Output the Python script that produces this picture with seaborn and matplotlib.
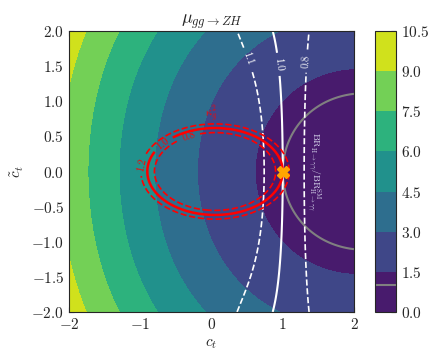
import numpy as np
import matplotlib
matplotlib.use("Agg")
import matplotlib.pyplot as plt
import seaborn as sns

# signal strength mu(gg->ZH) ~ a0 + a1*ct + a2*ct^2 + (b0 + b1*ct)*cpt^2
mu_ct_coef = [2.58, -2.04, 0.46]
mu_cpt_coef = [0.44, 0.05]
mu_levels = [0.0, 1.5, 3.0, 4.5, 6.0, 7.5, 9.0, 10.5]

# kappa_g^2 ~ k0*ct^2 + k1*ct + k2*cpt^2
kg_coef = [1.11, -0.11, 2.62]
kg_levels = [0.8, 1.0, 1.2]
kg_labels = ["0.8", "1.0", "1.2"]

# BR(H->gamma gamma)/SM ~ 1 + r0*(1 - exp(r1*(ct-1))) + (q0 + q1*ct + q2*ct^2)*cpt^2
br_ct_coef = [0.251, 1.95]
br_cpt_coef = [-0.0073, -0.0532, 0.0514]
br_levels = [0.8, 1.0, 1.1]
br_labels = ["0.8", "1.0", "1.1"]

sm_point = [1.0, 0.0]


def fields():
    ct = np.linspace(-2, 2, 401)
    cpt = np.linspace(-2, 2, 401)
    CT, CPT = np.meshgrid(ct, cpt)
    mu = (mu_ct_coef[0] + mu_ct_coef[1] * CT + mu_ct_coef[2] * CT**2
          + (mu_cpt_coef[0] + mu_cpt_coef[1] * CT) * CPT**2)
    kg = kg_coef[0] * CT**2 + kg_coef[1] * CT + kg_coef[2] * CPT**2
    br = (1 + br_ct_coef[0] * (1 - np.exp(br_ct_coef[1] * (CT - 1)))
          + (br_cpt_coef[0] + br_cpt_coef[1] * CT + br_cpt_coef[2] * CT**2) * CPT**2)
    return CT, CPT, mu, kg, br


def main():
    sns.set_style("ticks")
    plt.rcParams.update({
        "font.family": "serif",
        "font.serif": ["cmr10"],
        "mathtext.fontset": "cm",
        "axes.formatter.use_mathtext": True,
        "axes.unicode_minus": True,
        "xtick.direction": "in",
        "ytick.direction": "in",
        "xtick.top": True,
        "ytick.right": True,
        "xtick.labelsize": 11,
        "ytick.labelsize": 11,
        "axes.labelsize": 11,
    })

    CT, CPT, mu, kg, br = fields()

    fig = plt.figure(figsize=(4.4, 3.6), dpi=100)
    ax = fig.add_axes([69 / 440, 48 / 360, 285 / 440, 281 / 360])
    cax = fig.add_axes([375 / 440, 48 / 360, 21 / 440, 281 / 360])

    cf = ax.contourf(CT, CPT, mu, levels=mu_levels, cmap="viridis")
    gray = ax.contour(CT, CPT, mu, levels=[1.0], colors="gray", linewidths=1.5)

    # BR ratio (white)
    cs_br = ax.contour(CT, CPT, br, levels=br_levels, colors="white",
                       linestyles=["--", "-", "--"], linewidths=[1.2, 1.5, 1.2])
    ax.clabel(cs_br, fmt=dict(zip(br_levels, br_labels)), fontsize=7.5,
              inline=True, manual=[(1.36, 1.57), (0.89, 1.52), (0.49, 1.6)])

    # kappa_g^2 (red)
    cs_kg = ax.contour(CT, CPT, kg, levels=kg_levels, colors="red",
                       linestyles=["--", "-", "--"], linewidths=[1.2, 1.8, 1.2])
    ax.clabel(cs_kg, fmt=dict(zip(kg_levels, kg_labels)), fontsize=7.5,
              inline=True, manual=[(-0.33, 0.53), (-0.7, 0.42), (-0.98, 0.1)])
    ax.text(0.0, 0.82, r"$\kappa_g^2$", color="red", fontsize=8,
            rotation=10, ha="center", va="center")

    ax.text(1.44, 0.0, r"$\mathrm{BR}_{\mathrm{H}\to\gamma\gamma}/\mathrm{BR}^{\mathrm{SM}}_{\mathrm{H}\to\gamma\gamma}$",
            color="#d8d8ee", fontsize=7, rotation=-90, ha="center", va="center")

    ax.plot(sm_point[0], sm_point[1], marker="X", color="orange",
            markersize=9, linestyle="none", zorder=5)

    ax.set_xlim(-2, 2)
    ax.set_ylim(-2, 2)
    ax.set_xticks([-2, -1, 0, 1, 2])
    ax.set_yticks(np.arange(-2, 2.01, 0.5))
    ax.set_xlabel(r"$c_t$")
    ax.set_ylabel(r"$\tilde{c}_t$")
    ax.set_title(r"$\mu_{gg\to ZH}$", fontsize=13)

    cbar = fig.colorbar(cf, cax=cax, ticks=mu_levels)
    cbar.add_lines(gray)
    cax.tick_params(direction="in")

    fig.savefig("out.png", dpi=100)
    plt.close(fig)


if __name__ == "__main__":
    main()
